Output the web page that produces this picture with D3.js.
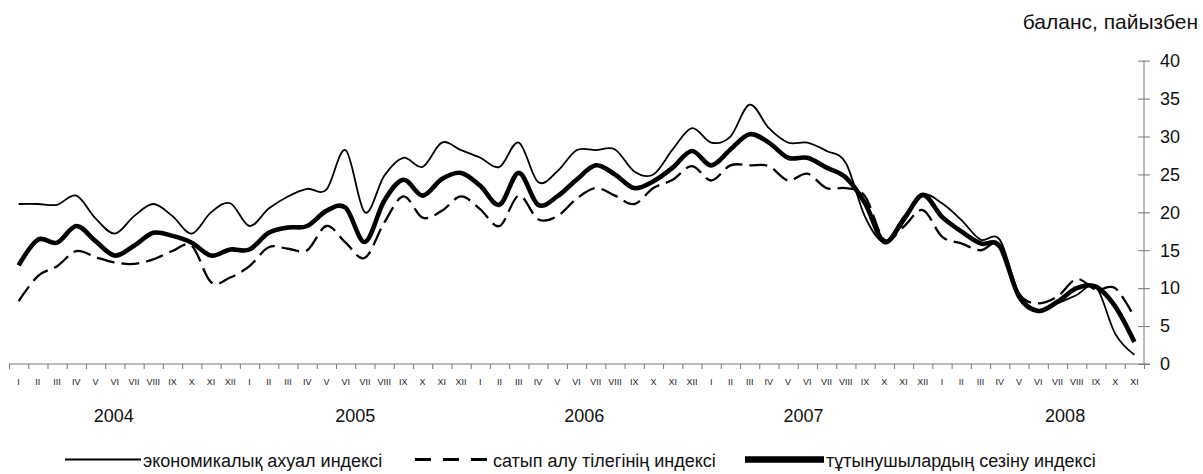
<!DOCTYPE html>
<html>
<head>
<meta charset="utf-8">
<script src="https://cdn.jsdelivr.net/npm/d3@7"></script>
<style>
  body { margin: 0; background: #fff; }
  svg { display: block; font-family: "Liberation Sans", Arial, sans-serif; }
</style>
</head>
<body>
<div id="chart"></div>
<script>
"use strict";

const romans = ["I", "II", "III", "IV", "V", "VI", "VII", "VIII", "IX", "X", "XI", "XII"];
const years = ["2004", "2005", "2006", "2007", "2008"];
// where each year caption sits, in months from Jan 2004
const yearAt = [5.45, 18.0, 29.9, 41.3, 54.9];
const yTicks = [0, 5, 10, 15, 20, 25, 30, 35, 40];

// Jan 2004 .. Nov 2008, monthly
const economic = [
  21.1, 21.1, 21.0, 22.2, 19.2, 17.2, 19.5, 21.1, 19.5, 17.2, 20.0, 21.2,
  18.2, 20.5, 22.1, 23.1, 23.0, 28.2, 20.0, 24.8, 27.2, 26.0, 29.2, 28.2,
  27.2, 26.0, 29.2, 24.0, 25.4, 28.2, 28.2, 28.3, 25.4, 25.0, 28.3, 31.1,
  29.2, 30.0, 34.2, 31.1, 29.2, 29.2, 28.1, 26.5, 19.4, 16.1, 19.4, 22.3,
  21.2, 19.0, 16.4, 16.4, 9.3, 7.1, 8.0, 9.1, 10.2, 4.0, 1.2,
];
const purchase = [
  8.3, 11.6, 12.9, 14.9, 14.1, 13.4, 13.2, 13.8, 14.9, 15.6, 10.8, 11.4,
  12.9, 15.4, 15.2, 15.0, 18.2, 16.0, 14.0, 18.6, 22.1, 19.3, 20.2, 22.1,
  20.4, 18.2, 22.2, 19.1, 19.5, 21.8, 23.2, 22.2, 21.1, 23.2, 24.3, 26.1,
  24.2, 26.2, 26.2, 26.1, 24.2, 25.1, 23.2, 23.2, 22.1, 16.4, 18.1, 20.3,
  16.8, 15.9, 15.0, 15.7, 9.3, 8.0, 8.9, 11.2, 9.8, 10.0, 6.2,
];
const consumer = [
  13.0, 16.4, 16.0, 18.2, 16.2, 14.3, 15.6, 17.3, 16.9, 16.0, 14.3, 15.1,
  15.1, 17.3, 18.0, 18.2, 20.2, 20.6, 16.1, 21.5, 24.3, 22.2, 24.4, 25.2,
  23.5, 21.0, 25.2, 21.0, 22.1, 24.3, 26.2, 25.0, 23.2, 24.1, 25.9, 28.1,
  26.2, 28.3, 30.3, 29.2, 27.2, 27.2, 25.9, 24.6, 21.2, 16.1, 19.0, 22.3,
  19.4, 17.5, 15.9, 15.5, 8.9, 7.0, 8.2, 10.0, 10.2, 7.6, 2.9,
];

const seriesNames = [
  "экономикалық ахуал индексі",
  "сатып алу тілегінің индексі",
  "тұтынушылардың сезіну индексі",
];
const unitLabel = "баланс, пайызбен";

const W = 1203, H = 474;
const plotLeft = 9, plotRight = 1144, plotTop = 60.7, plotBottom = 364;

const svg = d3.select("#chart").append("svg")
  .attr("width", W).attr("height", H);

const months = d3.range(economic.length);
const x = d3.scaleBand().domain(months).range([plotLeft, plotRight]);
const xEdge = d3.scaleLinear().domain([0, months.length]).range([plotLeft, plotRight]);
const y = d3.scaleLinear().domain([0, 40]).range([plotBottom, plotTop]);
const cx = (i) => x(i) + x.bandwidth() / 2;

const axisColor = "#777";

// x axis: tick marks at month edges
const gx = svg.append("g").attr("transform", `translate(0,${plotBottom})`)
  .call(d3.axisBottom(xEdge).tickValues(d3.range(months.length + 1))
    .tickFormat("").tickSizeInner(5).tickSizeOuter(0));
gx.select(".domain").attr("stroke", axisColor).attr("d", `M${plotLeft},0H${plotRight + 6}`);
gx.selectAll(".tick line").attr("stroke", axisColor);

// month labels
const gm = svg.append("g").attr("transform", `translate(0,${plotBottom})`)
  .call(d3.axisBottom(x).tickSize(0).tickPadding(15)
    .tickFormat((i) => romans[i % 12]));
gm.select(".domain").remove();
gm.selectAll("text").attr("font-size", 9).attr("fill", "#222")
  .attr("font-family", "Liberation Sans, Arial, sans-serif");

// year captions
svg.append("g").selectAll("text").data(years).enter().append("text")
  .attr("x", (d, i) => xEdge(yearAt[i]))
  .attr("y", 421.5)
  .attr("text-anchor", "middle")
  .attr("font-size", 18)
  .attr("fill", "#111")
  .text((d) => d);

// y axis on the right
const gy = svg.append("g").attr("transform", `translate(${plotRight},0)`)
  .call(d3.axisRight(y).tickValues(yTicks).tickSize(6).tickPadding(10));
gy.select(".domain").attr("stroke", axisColor).attr("d", `M0,${plotTop}V${plotBottom}`);
gy.selectAll(".tick line").attr("stroke", axisColor).attr("x1", -6);
gy.selectAll(".tick text").attr("font-size", 18).attr("fill", "#111")
  .attr("font-family", "Liberation Sans, Arial, sans-serif");

svg.append("text")
  .attr("x", 1198).attr("y", 29)
  .attr("text-anchor", "end")
  .attr("font-size", 21)
  .attr("fill", "#111")
  .text(unitLabel);

// series
const line = d3.line()
  .x((d, i) => cx(i))
  .y((d) => y(d))
  .curve(d3.curveCatmullRom.alpha(0));

const styles = [
  { data: economic, width: 1.8, dash: null },
  { data: purchase, width: 2.3, dash: "18,7" },
  { data: consumer, width: 4.6, dash: null },
];

svg.append("g").selectAll("path").data(styles).enter().append("path")
  .attr("d", (s) => line(s.data))
  .attr("fill", "none")
  .attr("stroke", "#000")
  .attr("stroke-width", (s) => s.width)
  .attr("stroke-dasharray", (s) => s.dash)
  .attr("stroke-linejoin", "round");

// legend
const legendItems = [
  { x0: 65, x1: 141, width: 2.2, dash: null, tx: 143 },
  { x0: 415, x1: 491, width: 3, dash: "16,12", tx: 493 },
  { x0: 745, x1: 824, width: 6.5, dash: null, tx: 826 },
];
const legendY = 459.5;
const lg = svg.append("g");
lg.selectAll("line").data(legendItems).enter().append("line")
  .attr("x1", (d) => d.x0).attr("x2", (d) => d.x1)
  .attr("y1", legendY).attr("y2", legendY)
  .attr("stroke", "#000")
  .attr("stroke-width", (d) => d.width)
  .attr("stroke-dasharray", (d) => d.dash);
lg.selectAll("text").data(legendItems).enter().append("text")
  .attr("x", (d) => d.tx).attr("y", legendY + 7)
  .attr("font-size", 18)
  .attr("fill", "#111")
  .text((d, i) => seriesNames[i]);
</script>
</body>
</html>
